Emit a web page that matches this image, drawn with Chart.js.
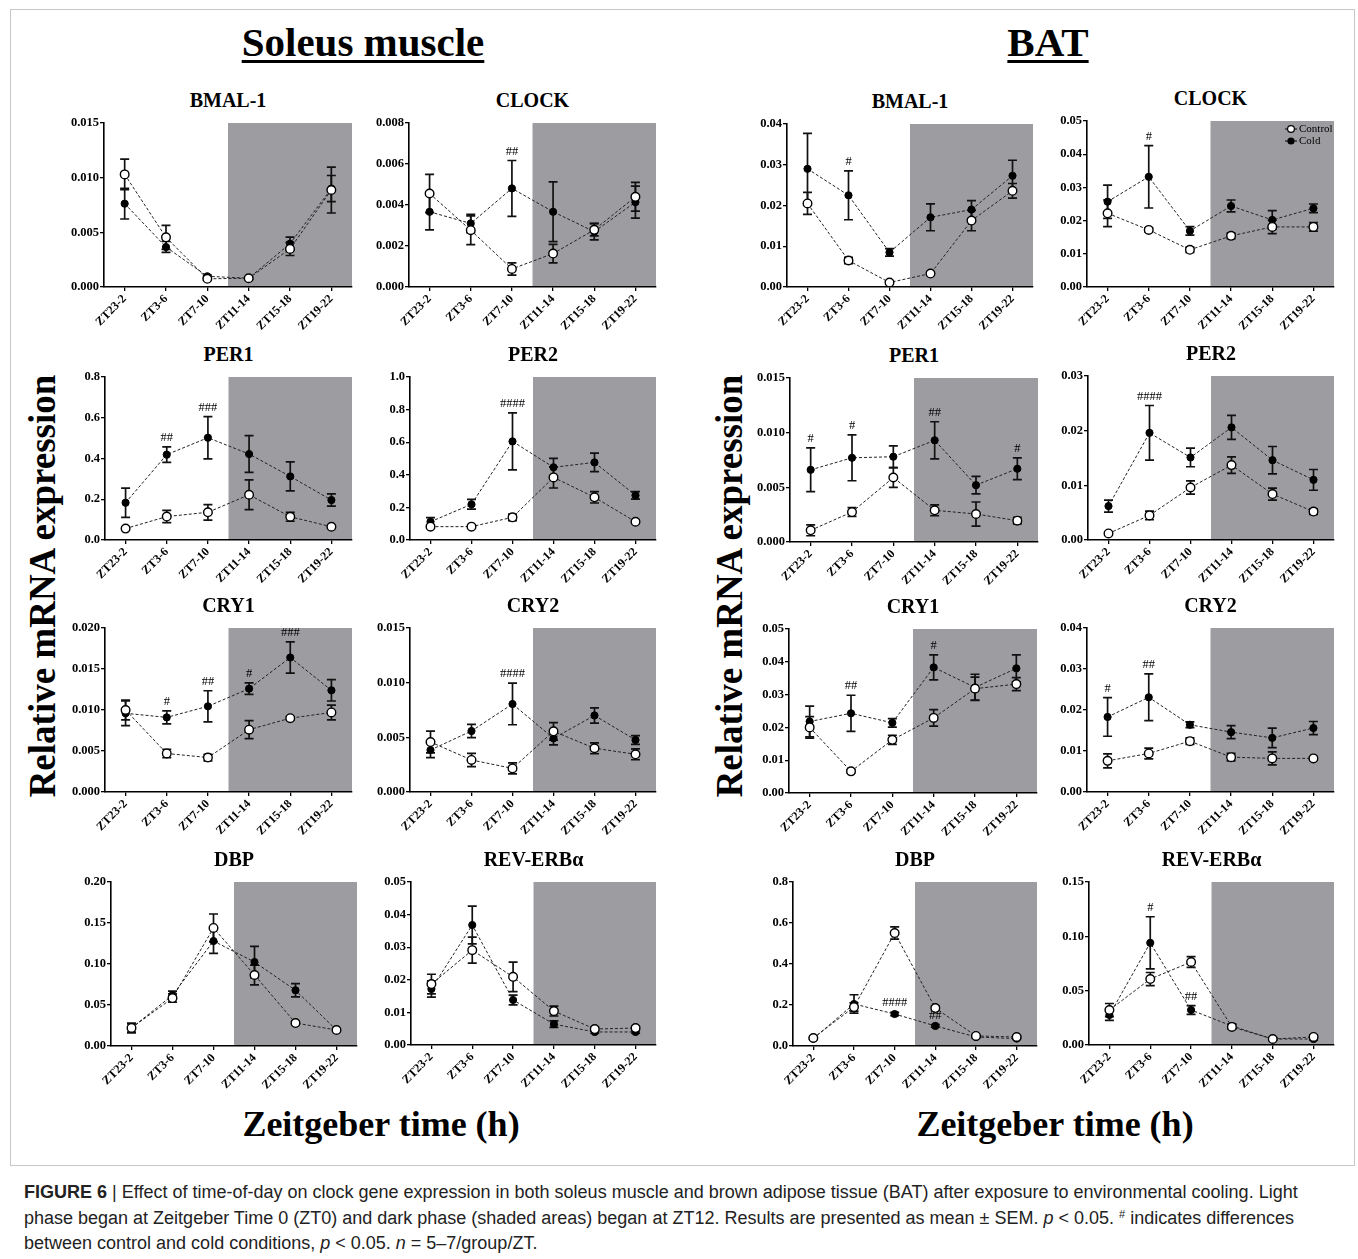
<!DOCTYPE html>
<html>
<head>
<meta charset="utf-8">
<script src="https://cdn.jsdelivr.net/npm/chart.js@4.4.1/dist/chart.umd.min.js"></script>
<style>
  html, body { margin: 0; padding: 0; background: #fff; }
  body { width: 1358px; height: 1259px; position: relative; overflow: hidden;
         font-family: "Liberation Serif", "Times New Roman", serif; color: #000; }
  .frame { position: absolute; left: 10px; top: 9px; width: 1343px; height: 1155px; border: 1px solid #c8c8c8; }
  .big { position: absolute; font-weight: bold; white-space: nowrap; transform: translate(-50%, -50%); }
  .group { font-size: 41px; text-decoration: underline; text-decoration-thickness: 3px; text-underline-offset: 4px; }
  .ylab { font-size: 37px; transform: translate(-50%, -50%) rotate(-90deg); }
  .xlab { font-size: 36px; }
  .ptitle { position: absolute; font-weight: bold; font-size: 20px; white-space: nowrap; transform: translate(-50%, -50%); }
  canvas { position: absolute; }
  .caption { position: absolute; left: 24px; top: 1180px; font-family: "Liberation Sans", Arial, sans-serif;
             font-size: 18px; line-height: 25.5px; color: #222; white-space: nowrap; }
  .caption sup { font-size: 11px; line-height: 0; vertical-align: 6px; }
</style>
</head>
<body>
<div class="frame"></div>
<div class="big group" style="left:363px; top:42px;">Soleus muscle</div>
<div class="big group" style="left:1048px; top:42px;">BAT</div>
<div class="big ylab" style="left:42px; top:586px;">Relative mRNA expression</div>
<div class="big ylab" style="left:729px; top:586px;">Relative mRNA expression</div>
<div class="big xlab" style="left:381px; top:1124px;">Zeitgeber time (h)</div>
<div class="big xlab" style="left:1055px; top:1124px;">Zeitgeber time (h)</div>
<div class="caption">
  <b>FIGURE 6</b> | Effect of time-of-day on clock gene expression in both soleus muscle and brown adipose tissue (BAT) after exposure to environmental cooling. Light<br>
  phase began at Zeitgeber Time 0 (ZT0) and dark phase (shaded areas) began at ZT12. Results are presented as mean ± SEM. <i>p</i> &lt; 0.05. <sup>#</sup> indicates differences<br>
  between control and cold conditions, <i>p</i> &lt; 0.05. <i>n</i> = 5–7/group/ZT.
</div>
<script>
// Sampling bins (Zeitgeber time) shared by every panel
const zeitgeberBins = ['ZT23-2', 'ZT3-6', 'ZT7-10', 'ZT11-14', 'ZT15-18', 'ZT19-22'];
const darkPhaseStart = 3; // first bin recorded after lights off (ZT12)

// ---- Soleus muscle ----
const soleusBmal1Control    = [0.0103, 0.00454, 0.00075, 0.0008, 0.00348, 0.00887];
const soleusBmal1ControlSem = [0.0014, 0.0011, 0.0001, 0.0001, 0.0006, 0.0021];
const soleusBmal1Cold       = [0.00762, 0.00366, 0.00098, 0.0008, 0.00396, 0.009];
const soleusBmal1ColdSem    = [0.0014, 0.0005, 0.0001, 0.0001, 0.0006, 0.0012];
const soleusBmal1Marks      = ['', '', '', '', '', ''];

const soleusClockControl    = [0.00456, 0.00277, 0.00088, 0.00163, 0.00279, 0.0044];
const soleusClockControlSem = [0.00093, 0.0007, 0.0003, 0.00045, 0.0003, 0.0007];
const soleusClockCold       = [0.00367, 0.0031, 0.00481, 0.00367, 0.0027, 0.00414];
const soleusClockColdSem    = [0.00088, 0.00045, 0.00136, 0.00146, 0.0004, 0.00078];
const soleusClockMarks      = ['', '', '##', '', '', ''];

const soleusPer1Control    = [0.056, 0.115, 0.136, 0.222, 0.114, 0.065];
const soleusPer1ControlSem = [0.006, 0.03, 0.038, 0.073, 0.022, 0.006];
const soleusPer1Cold       = [0.183, 0.419, 0.502, 0.422, 0.312, 0.196];
const soleusPer1ColdSem    = [0.072, 0.038, 0.104, 0.09, 0.071, 0.03];
const soleusPer1Marks      = ['', '##', '###', '', '', ''];

const soleusPer2Control    = [0.082, 0.082, 0.139, 0.384, 0.262, 0.112];
const soleusPer2ControlSem = [0.01, 0.008, 0.02, 0.065, 0.035, 0.008];
const soleusPer2Cold       = [0.112, 0.219, 0.605, 0.446, 0.476, 0.274];
const soleusPer2ColdSem    = [0.025, 0.03, 0.175, 0.055, 0.057, 0.023];
const soleusPer2Marks      = ['', '', '####', '', '', ''];

const soleusCry1Control    = [0.0100, 0.0047, 0.0042, 0.0076, 0.0090, 0.0097];
const soleusCry1ControlSem = [0.0012, 0.0005, 0.0004, 0.0011, 0.0002, 0.0009];
const soleusCry1Cold       = [0.0096, 0.0091, 0.01045, 0.0126, 0.0164, 0.0124];
const soleusCry1ColdSem    = [0.0015, 0.0008, 0.0019, 0.0007, 0.0019, 0.0013];
const soleusCry1Marks      = ['', '#', '##', '#', '###', ''];

const soleusCry2Control    = [0.00457, 0.00293, 0.00216, 0.00555, 0.0040, 0.00345];
const soleusCry2ControlSem = [0.001, 0.0006, 0.0005, 0.0008, 0.0005, 0.0005];
const soleusCry2Cold       = [0.00384, 0.00558, 0.00805, 0.00491, 0.0070, 0.00476];
const soleusCry2ColdSem    = [0.0007, 0.0006, 0.0019, 0.0006, 0.0007, 0.0004];
const soleusCry2Marks      = ['', '', '####', '', '', ''];

const soleusDbpControl    = [0.022, 0.0585, 0.144, 0.0866, 0.028, 0.0195];
const soleusDbpControlSem = [0.006, 0.005, 0.017, 0.012, 0.002, 0.001];
const soleusDbpCold       = [0.022, 0.062, 0.128, 0.1024, 0.068, 0.0195];
const soleusDbpColdSem    = [0.005, 0.005, 0.015, 0.019, 0.008, 0.001];
const soleusDbpMarks      = ['', '', '', '', '', ''];

const soleusReverbControl    = [0.0187, 0.0291, 0.0209, 0.0104, 0.0049, 0.0052];
const soleusReverbControlSem = [0.003, 0.004, 0.0045, 0.0015, 0.0005, 0.0005];
const soleusReverbCold       = [0.0172, 0.0368, 0.0138, 0.0064, 0.004, 0.004];
const soleusReverbColdSem    = [0.0025, 0.0058, 0.0015, 0.001, 0.0004, 0.0004];
const soleusReverbMarks      = ['', '', '', '', '', ''];

// ---- Brown adipose tissue ----
const batBmal1Control    = [0.0205, 0.0065, 0.0011, 0.0033, 0.0163, 0.0236];
const batBmal1ControlSem = [0.0027, 0.0008, 0.0003, 0.0004, 0.0025, 0.0018];
const batBmal1Cold       = [0.029, 0.0225, 0.0085, 0.0171, 0.019, 0.0273];
const batBmal1ColdSem    = [0.0087, 0.006, 0.0009, 0.0033, 0.0022, 0.0038];
const batBmal1Marks      = ['', '#', '', '', '', ''];

const batClockControl    = [0.0222, 0.0172, 0.0112, 0.0154, 0.0181, 0.0181];
const batClockControlSem = [0.004, 0.0006, 0.0008, 0.0008, 0.002, 0.0013];
const batClockCold       = [0.0257, 0.0332, 0.0169, 0.0244, 0.0202, 0.0237];
const batClockColdSem    = [0.005, 0.0094, 0.0013, 0.0018, 0.0028, 0.0013];
const batClockMarks      = ['', '#', '', '', '', ''];

const batPer1Control    = [0.00107, 0.00274, 0.0059, 0.0029, 0.00256, 0.00195];
const batPer1ControlSem = [0.0005, 0.0004, 0.0009, 0.0005, 0.0011, 0.0003];
const batPer1Cold       = [0.0066, 0.0077, 0.0078, 0.0093, 0.0052, 0.0067];
const batPer1ColdSem    = [0.002, 0.0021, 0.001, 0.0017, 0.0008, 0.001];
const batPer1Marks      = ['#', '#', '', '##', '', '#'];

const batPer2Control    = [0.0012, 0.0045, 0.0096, 0.0137, 0.0084, 0.0052];
const batPer2ControlSem = [0.0002, 0.0008, 0.0012, 0.0015, 0.0011, 0.0005];
const batPer2Cold       = [0.0062, 0.0196, 0.0151, 0.0206, 0.0146, 0.011];
const batPer2ColdSem    = [0.0011, 0.005, 0.0017, 0.0022, 0.0025, 0.0019];
const batPer2Marks      = ['', '####', '', '', '', ''];

const batCry1Control    = [0.020, 0.0066, 0.0162, 0.0229, 0.0318, 0.0332];
const batCry1ControlSem = [0.0033, 0.0005, 0.0014, 0.0025, 0.0035, 0.002];
const batCry1Cold       = [0.0218, 0.0243, 0.0214, 0.0383, 0.0322, 0.038];
const batCry1ColdSem    = [0.0047, 0.0055, 0.0013, 0.0038, 0.004, 0.0041];
const batCry1Marks      = ['', '##', '', '#', '', ''];

const batCry2Control    = [0.0076, 0.0094, 0.0124, 0.0085, 0.0082, 0.0082];
const batCry2ControlSem = [0.0017, 0.0013, 0.0008, 0.0009, 0.0016, 0.0003];
const batCry2Cold       = [0.0183, 0.0231, 0.0164, 0.0146, 0.0132, 0.0156];
const batCry2ColdSem    = [0.0047, 0.0057, 0.0007, 0.0016, 0.0024, 0.0016];
const batCry2Marks      = ['#', '##', '', '', '', ''];

const batDbpControl    = [0.039, 0.19, 0.551, 0.185, 0.049, 0.044];
const batDbpControlSem = [0.005, 0.02, 0.03, 0.01, 0.005, 0.005];
const batDbpCold       = [0.036, 0.205, 0.156, 0.098, 0.044, 0.036];
const batDbpColdSem    = [0.004, 0.045, 0.008, 0.006, 0.004, 0.004];
const batDbpMarks      = ['', '', '####', '##', '', ''];

const batReverbControl    = [0.0322, 0.0607, 0.0764, 0.0166, 0.0055, 0.0074];
const batReverbControlSem = [0.006, 0.006, 0.005, 0.002, 0.001, 0.002];
const batReverbCold       = [0.0276, 0.094, 0.0322, 0.0175, 0.0055, 0.0055];
const batReverbColdSem    = [0.005, 0.024, 0.004, 0.002, 0.001, 0.001];
const batReverbMarks      = ['', '#', '##', '', '', ''];

// Panel layout: plot-area box [left, top, right, bottom] in page pixels, y range and tick format
const panels = [
  { title: 'BMAL-1', c: soleusBmal1Control, cs: soleusBmal1ControlSem, k: soleusBmal1Cold, ks: soleusBmal1ColdSem, marks: soleusBmal1Marks, yMax: 0.015, step: 0.005, dec: 3, box: [104, 123, 352, 287] },
  { title: 'CLOCK', c: soleusClockControl, cs: soleusClockControlSem, k: soleusClockCold, ks: soleusClockColdSem, marks: soleusClockMarks, yMax: 0.008, step: 0.002, dec: 3, box: [409, 123, 656, 287] },
  { title: 'BMAL-1', c: batBmal1Control, cs: batBmal1ControlSem, k: batBmal1Cold, ks: batBmal1ColdSem, marks: batBmal1Marks, yMax: 0.04, step: 0.01, dec: 2, box: [787, 124, 1033, 287] },
  { title: 'CLOCK', c: batClockControl, cs: batClockControlSem, k: batClockCold, ks: batClockColdSem, marks: batClockMarks, yMax: 0.05, step: 0.01, dec: 2, box: [1087, 121, 1334, 287], key: true },

  { title: 'PER1', c: soleusPer1Control, cs: soleusPer1ControlSem, k: soleusPer1Cold, ks: soleusPer1ColdSem, marks: soleusPer1Marks, yMax: 0.8, step: 0.2, dec: 1, box: [105, 377, 352, 540] },
  { title: 'PER2', c: soleusPer2Control, cs: soleusPer2ControlSem, k: soleusPer2Cold, ks: soleusPer2ColdSem, marks: soleusPer2Marks, yMax: 1.0, step: 0.2, dec: 1, box: [410, 377, 656, 540] },
  { title: 'PER1', c: batPer1Control, cs: batPer1ControlSem, k: batPer1Cold, ks: batPer1ColdSem, marks: batPer1Marks, yMax: 0.015, step: 0.005, dec: 3, box: [790, 378, 1038, 542] },
  { title: 'PER2', c: batPer2Control, cs: batPer2ControlSem, k: batPer2Cold, ks: batPer2ColdSem, marks: batPer2Marks, yMax: 0.03, step: 0.01, dec: 2, box: [1088, 376, 1334, 540] },

  { title: 'CRY1', c: soleusCry1Control, cs: soleusCry1ControlSem, k: soleusCry1Cold, ks: soleusCry1ColdSem, marks: soleusCry1Marks, yMax: 0.02, step: 0.005, dec: 3, box: [105, 628, 352, 792] },
  { title: 'CRY2', c: soleusCry2Control, cs: soleusCry2ControlSem, k: soleusCry2Cold, ks: soleusCry2ColdSem, marks: soleusCry2Marks, yMax: 0.015, step: 0.005, dec: 3, box: [410, 628, 656, 792] },
  { title: 'CRY1', c: batCry1Control, cs: batCry1ControlSem, k: batCry1Cold, ks: batCry1ColdSem, marks: batCry1Marks, yMax: 0.05, step: 0.01, dec: 2, box: [789, 629, 1037, 793] },
  { title: 'CRY2', c: batCry2Control, cs: batCry2ControlSem, k: batCry2Cold, ks: batCry2ColdSem, marks: batCry2Marks, yMax: 0.04, step: 0.01, dec: 2, box: [1087, 628, 1334, 792] },

  { title: 'DBP', c: soleusDbpControl, cs: soleusDbpControlSem, k: soleusDbpCold, ks: soleusDbpColdSem, marks: soleusDbpMarks, yMax: 0.2, step: 0.05, dec: 2, box: [111, 882, 357, 1046] },
  { title: 'REV-ERBα', c: soleusReverbControl, cs: soleusReverbControlSem, k: soleusReverbCold, ks: soleusReverbColdSem, marks: soleusReverbMarks, yMax: 0.05, step: 0.01, dec: 2, box: [411, 882, 656, 1045] },
  { title: 'DBP', c: batDbpControl, cs: batDbpControlSem, k: batDbpCold, ks: batDbpColdSem, marks: batDbpMarks, yMax: 0.8, step: 0.2, dec: 1, box: [793, 882, 1037, 1046] },
  { title: 'REV-ERBα', c: batReverbControl, cs: batReverbControlSem, k: batReverbCold, ks: batReverbColdSem, marks: batReverbMarks, yMax: 0.15, step: 0.05, dec: 2, box: [1089, 882, 1334, 1045] }
];

Chart.defaults.font.family = '"Liberation Serif", "Times New Roman", serif';
Chart.defaults.color = '#000';

// Grey band for the dark phase, painted before the axes
const darkPhaseBand = {
  id: 'darkPhaseBand',
  beforeDraw(chart) {
    const { ctx, chartArea, scales } = chart;
    const x0 = scales.x.getPixelForValue(darkPhaseStart - 0.5);
    ctx.save();
    ctx.fillStyle = '#9d9da1';
    ctx.fillRect(x0, chartArea.top, chartArea.right - x0, chartArea.bottom - chartArea.top);
    ctx.restore();
  }
};

// Mean ± SEM whiskers with caps
const semWhiskers = {
  id: 'semWhiskers',
  beforeDatasetsDraw(chart) {
    const { ctx, scales } = chart;
    ctx.save();
    ctx.strokeStyle = '#111';
    ctx.lineWidth = 1.7;
    chart.data.datasets.slice().reverse().forEach(ds => {
      ds.sem.forEach((s, i) => {
        const v = ds.data[i];
        const px = scales.x.getPixelForValue(i);
        const hi = scales.y.getPixelForValue(v + s);
        const lo = scales.y.getPixelForValue(Math.max(v - s, 0));
        ctx.beginPath();
        ctx.moveTo(px, hi); ctx.lineTo(px, lo);
        ctx.moveTo(px - 4.5, hi); ctx.lineTo(px + 4.5, hi);
        ctx.moveTo(px - 4.5, lo); ctx.lineTo(px + 4.5, lo);
        ctx.stroke();
      });
    });
    ctx.restore();
  }
};

// Significance marks (#) above the cold-group whisker
const significance = {
  id: 'significance',
  afterDatasetsDraw(chart, args, opts) {
    const { ctx, scales } = chart;
    const cold = chart.data.datasets[1];
    ctx.save();
    ctx.font = '12.5px "Liberation Serif", serif';
    ctx.fillStyle = '#000';
    ctx.textAlign = 'center';
    ctx.textBaseline = 'alphabetic';
    (opts.marks || []).forEach((m, i) => {
      if (!m) return;
      const px = scales.x.getPixelForValue(i);
      const py = scales.y.getPixelForValue(cold.data[i] + cold.sem[i]);
      ctx.fillText(m, px, py - 6);
    });
    ctx.restore();
  }
};

// Small key in the top-right corner of a plot
const cornerKey = {
  id: 'cornerKey',
  afterDatasetsDraw(chart, args, opts) {
    if (!opts.show) return;
    const { ctx, chartArea } = chart;
    const x = chartArea.right - 43;
    ctx.save();
    ctx.font = '11px "Liberation Serif", serif';
    ctx.textBaseline = 'middle';
    chart.data.datasets.forEach((ds, j) => {
      const y = chartArea.top + 8 + j * 12;
      ctx.strokeStyle = '#000';
      ctx.lineWidth = 1;
      ctx.beginPath(); ctx.moveTo(x - 6, y); ctx.lineTo(x + 6, y); ctx.stroke();
      ctx.beginPath();
      ctx.arc(x, y, j === 0 ? 3.4 : 3, 0, Math.PI * 2);
      ctx.fillStyle = ds.pointBackgroundColor;
      ctx.fill();
      ctx.lineWidth = 1.2;
      ctx.stroke();
      ctx.fillStyle = '#000';
      ctx.fillText(ds.label, x + 8, y);
    });
    ctx.restore();
  }
};

const Y_W = 52, X_H = 55, PAD_T = 14, PAD_R = 6;

panels.forEach(p => {
  const [L, T, R, B] = p.box;

  const head = document.createElement('div');
  head.className = 'ptitle';
  head.textContent = p.title;
  head.style.left = ((L + R) / 2) + 'px';
  head.style.top = (T - 23) + 'px';
  document.body.appendChild(head);

  const cv = document.createElement('canvas');
  const w = R - L + Y_W + PAD_R, h = B - T + PAD_T + X_H;
  cv.width = w; cv.height = h;
  cv.style.left = (L - Y_W) + 'px';
  cv.style.top = (T - PAD_T) + 'px';
  cv.style.width = w + 'px';
  cv.style.height = h + 'px';
  document.body.appendChild(cv);

  new Chart(cv, {
    type: 'line',
    data: {
      labels: zeitgeberBins,
      datasets: [
        { label: 'Control', data: p.c, sem: p.cs, borderColor: '#222', borderWidth: 1, borderDash: [3, 2],
          pointRadius: 4.3, pointBorderWidth: 1.4, pointBackgroundColor: '#fff', pointBorderColor: '#000', tension: 0 },
        { label: 'Cold', data: p.k, sem: p.ks, borderColor: '#222', borderWidth: 1, borderDash: [3, 2],
          pointRadius: 3.6, pointBorderWidth: 1, pointBackgroundColor: '#000', pointBorderColor: '#000', tension: 0 }
      ]
    },
    options: {
      responsive: false,
      animation: false,
      devicePixelRatio: 1,
      events: [],
      layout: { padding: { top: PAD_T, right: PAD_R, left: 0, bottom: 0 } },
      plugins: {
        legend: { display: false },
        tooltip: { enabled: false },
        significance: { marks: p.marks },
        cornerKey: { show: !!p.key }
      },
      scales: {
        x: {
          type: 'category',
          offset: true,
          grid: { display: true, drawOnChartArea: false, drawTicks: true, tickLength: 4, color: '#000', lineWidth: 1.3, offset: false },
          border: { display: true, color: '#000', width: 1.6 },
          ticks: { autoSkip: false, minRotation: 45, maxRotation: 45, padding: 1,
                   font: { size: 12, weight: 'bold' }, color: '#000' },
          afterFit: s => { s.height = X_H; }
        },
        y: {
          min: 0,
          max: p.yMax,
          grid: { display: true, drawOnChartArea: false, drawTicks: true, tickLength: 4, color: '#000', lineWidth: 1.3 },
          border: { display: true, color: '#000', width: 1.6 },
          ticks: { padding: 1, font: { size: 12.5, weight: 'bold' }, color: '#000',
                   callback: v => Number(v).toFixed(p.dec) },
          afterBuildTicks: s => {
            const n = Math.round(p.yMax / p.step);
            s.ticks = Array.from({ length: n + 1 }, (_, i) => ({ value: +(i * p.step).toFixed(6) }));
          },
          afterFit: s => { s.width = Y_W; }
        }
      }
    },
    plugins: [darkPhaseBand, semWhiskers, significance, cornerKey]
  });
});
</script>
</body>
</html>
